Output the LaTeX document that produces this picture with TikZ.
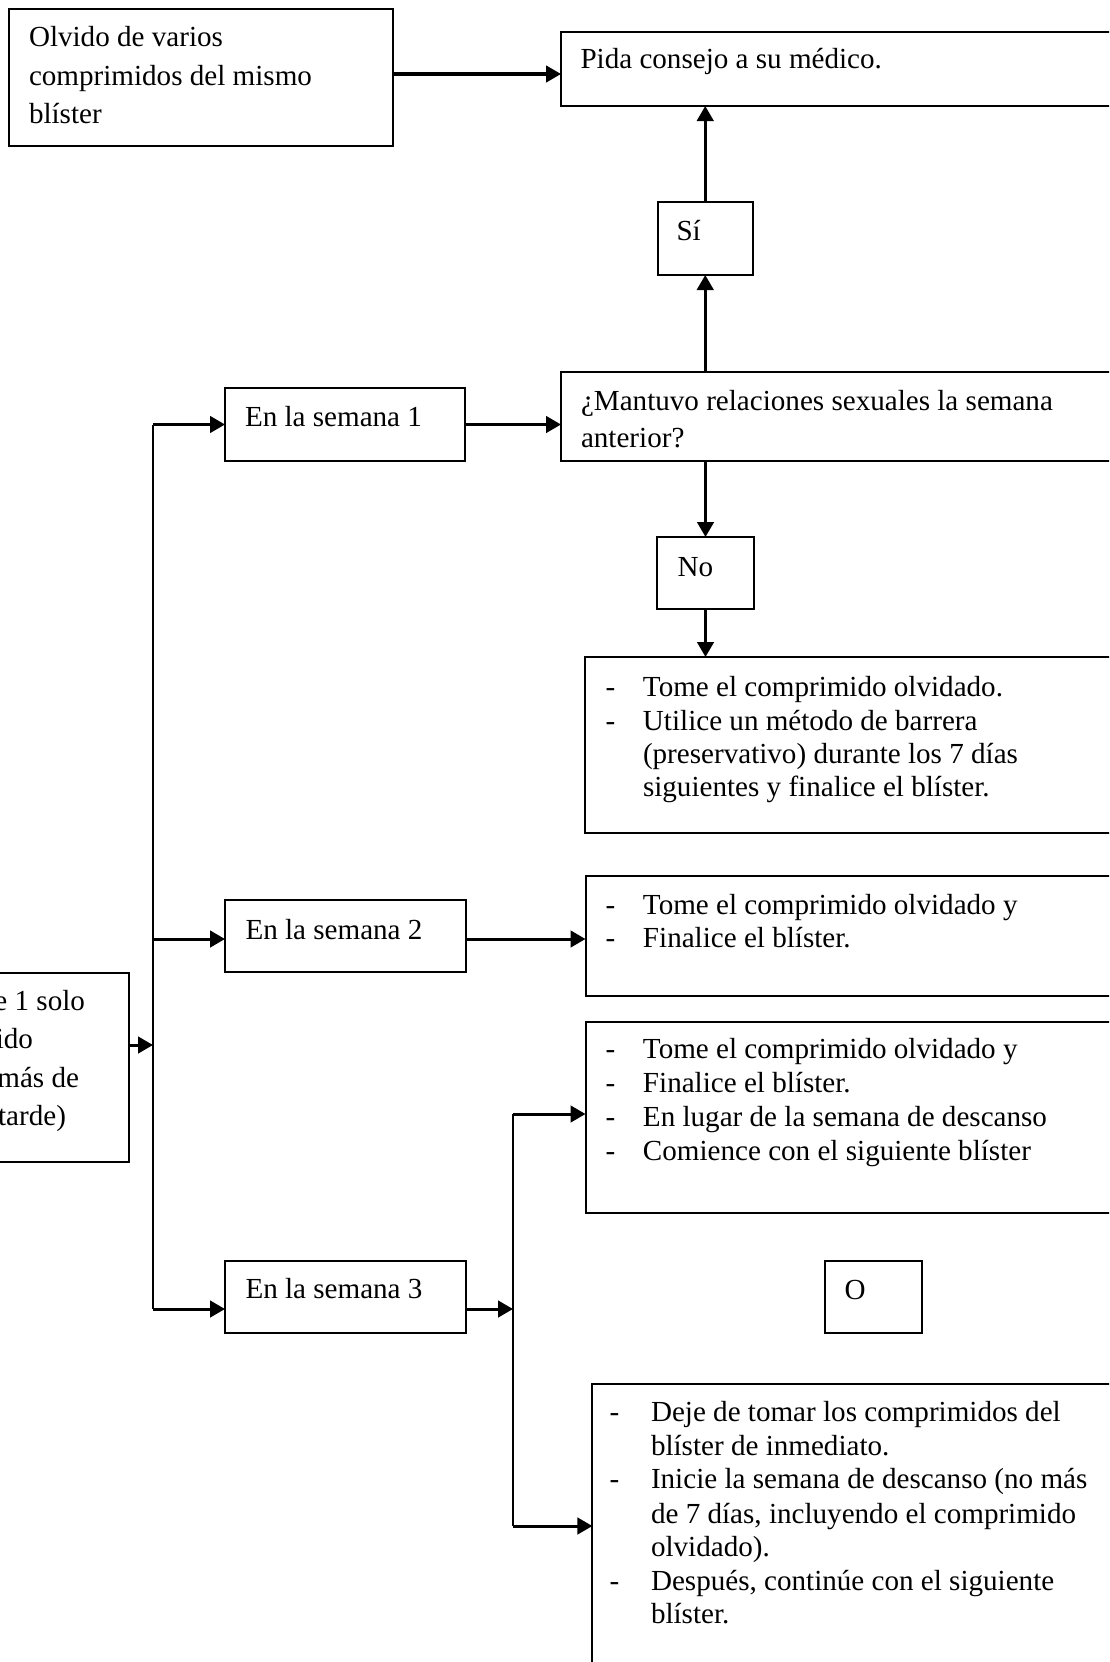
\documentclass[tikz,border=0pt]{standalone}
\usepackage{fontspec}
\setmainfont{Liberation Serif}
\usetikzlibrary{arrows.meta}
\begin{document}
\begin{tikzpicture}[x=1pt,y=-1pt,
  box/.style={draw, line width=2pt, rectangle, inner sep=0pt, outer sep=0pt, anchor=north west},
  lbl/.style={inner sep=0pt, outer sep=0pt, anchor=base west, font=\fontsize{29.1}{34}\selectfont},
  lble/.style={lbl, anchor=base east},
  link/.style={line width=2.2pt},
  arr/.style={line width=3pt, -{Triangle[length=15pt,width=16.5pt]}}]
\useasboundingbox (0,0) rectangle (1109,1662);
\fill[white] (0,0) rectangle (1109,1662);
\clip (0,0) rectangle (1109,1662);
% boxes
\node[box, minimum width=384.5pt, minimum height=137pt] (olv) at (8.5,9) {};
\node[box, minimum width=570pt, minimum height=74pt] (pida) at (561,32) {};
\node[box, minimum width=94.5pt, minimum height=73pt] (si) at (658,202) {};
\node[box, minimum width=570pt, minimum height=89pt] (mant) at (561,372) {};
\node[box, minimum width=240pt, minimum height=73pt] (en1) at (225,388) {};
\node[box, minimum width=97pt, minimum height=72pt] (no) at (657,537) {};
\node[box, minimum width=545pt, minimum height=176pt] (tome1) at (584.7,657) {};
\node[box, minimum width=241pt, minimum height=72pt] (en2) at (225,900) {};
\node[box, minimum width=545pt, minimum height=120pt] (res2) at (585.5,876) {};
\node[box, minimum width=545pt, minimum height=191pt] (res3) at (585.5,1022) {};
\node[box, minimum width=149pt, minimum height=189pt] (left) at (-20,973) {};
\node[box, minimum width=241pt, minimum height=72pt] (en3) at (225,1261) {};
\node[box, minimum width=97pt, minimum height=72pt] (obox) at (825,1261) {};
\node[box, minimum width=540pt, minimum height=296pt] (res4) at (592.4,1384) {};
% texts
\node[lbl] (t1) at (29,46.7) {Olvido de varios};
\node[lbl] (t2) at (29,85) {comprimidos del mismo};
\node[lbl] (t3) at (29,123.3) {blíster};
\node[lbl] (t4) at (580.5,69) {Pida consejo a su médico.};
\node[lbl] (t5) at (676.5,240) {Sí};
\node[lbl] (t6) at (581,410) {¿Mantuvo relaciones sexuales la semana};
\node[lbl] (t7) at (581,447.3) {anterior?};
\node[lbl] (t8) at (245,426.7) {En la semana 1};
\node[lbl] (t9) at (677.5,576) {No};
\node[lbl] (t10) at (605.5,696.7) {\makebox[37.5pt][l]{-}Tome el comprimido olvidado.};
\node[lbl] (t11) at (605.5,730) {\makebox[37.5pt][l]{-}Utilice un método de barrera};
\node[lbl] (t12) at (643,763.3) {(preservativo) durante los 7 días};
\node[lbl] (t13) at (643,796.7) {siguientes y finalice el blíster.};
\node[lbl] (t14) at (245.5,939) {En la semana 2};
\node[lbl] (t15) at (605.5,914) {\makebox[37.5pt][l]{-}Tome el comprimido olvidado y};
\node[lbl] (t16) at (605.5,947.3) {\makebox[37.5pt][l]{-}Finalice el blíster.};
\node[lbl] (t17) at (605.5,1058.3) {\makebox[37.5pt][l]{-}Tome el comprimido olvidado y};
\node[lbl] (t18) at (605.5,1092.3) {\makebox[37.5pt][l]{-}Finalice el blíster.};
\node[lbl] (t19) at (605.5,1126.7) {\makebox[37.5pt][l]{-}En lugar de la semana de descanso};
\node[lbl] (t20) at (605.5,1160.7) {\makebox[37.5pt][l]{-}Comience con el siguiente blíster};
\node[lble] (t21) at (85,1010) {e 1 solo};
\node[lble] (t22) at (33,1048.3) {ido};
\node[lble] (t23) at (79,1087.7) {más de};
\node[lble] (t24) at (66,1125.7) {tarde)};
\node[lbl] (t25) at (245.5,1298.3) {En la semana 3};
\node[lbl] (t26) at (844.5,1299.3) {O};
\node[lbl] (t27) at (609.5,1421.7) {\makebox[41.5pt][l]{-}Deje de tomar los comprimidos del};
\node[lbl] (t28) at (651,1455) {blíster de inmediato.};
\node[lbl] (t29) at (609.5,1488.3) {\makebox[41.5pt][l]{-}Inicie la semana de descanso (no más};
\node[lbl] (t30) at (651,1523) {de 7 días, incluyendo el comprimido};
\node[lbl] (t31) at (651,1556.7) {olvidado).};
\node[lbl] (t32) at (609.5,1590) {\makebox[41.5pt][l]{-}Después, continúe con el siguiente};
\node[lbl] (t33) at (651,1623.3) {blíster.};
% connectors
\coordinate (yA) at (0,74);
\draw[arr] (olv.east |- yA) -- (pida.west |- yA);
\draw[arr] (si.north) -- (si.north |- pida.south);
\draw[arr] (si.south |- mant.north) -- (si.south);
\draw[arr] (en1.east) -- (en1.east -| mant.west);
\draw[arr] (no.north |- mant.south) -- (no.north);
\draw[arr] (no.south) -- (no.south |- tome1.north);
\coordinate (b1) at (153,424.5);
\coordinate (b2) at (153,939);
\coordinate (b3) at (153,1309);
\coordinate (bl) at (153,1045);
\draw[link] (b1) -- (b3);
\draw[arr] (b1) -- (b1 -| en1.west);
\draw[arr] (b2) -- (b2 -| en2.west);
\draw[arr] (b3) -- (b3 -| en3.west);
\draw[arr] (bl -| left.east) -- (bl);
\draw[arr] (b2 -| en2.east) -- (b2 -| res2.west);
\coordinate (c1) at (513,1114);
\coordinate (c2) at (513,1309);
\coordinate (c3) at (513,1526);
\draw[link] (c1) -- (c3);
\draw[arr] (c2 -| en3.east) -- (c2);
\draw[arr] (c1) -- (c1 -| res3.west);
\draw[arr] (c3) -- (c3 -| res4.west);
\end{tikzpicture}
\end{document}
